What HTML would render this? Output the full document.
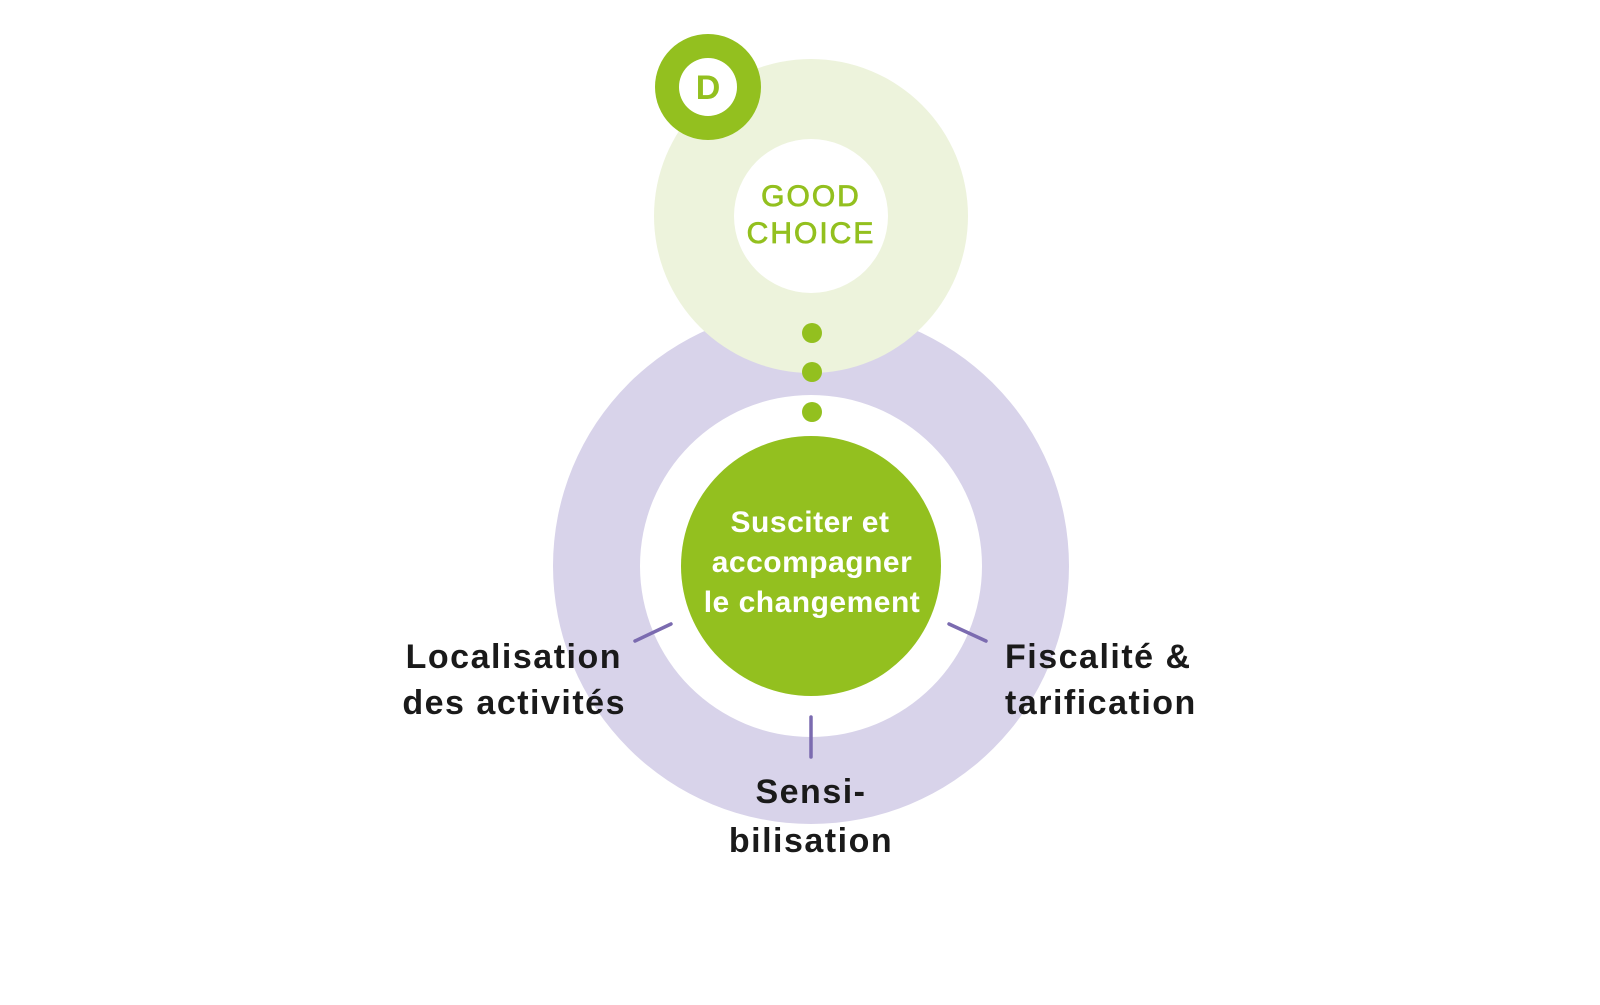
<!DOCTYPE html>
<html><head><meta charset="utf-8"><style>
body{margin:0;background:#fff;width:1600px;height:1000px;overflow:hidden}
</style></head><body>
<svg width="1600" height="1000" viewBox="0 0 1600 1000" xmlns="http://www.w3.org/2000/svg">
<circle cx="811" cy="566" r="258" fill="#d8d3ea"/>
<circle cx="811" cy="216" r="157" fill="#edf3dc"/>
<circle cx="811" cy="566" r="171" fill="#fff"/>
<circle cx="811" cy="216" r="77" fill="#fff"/>
<circle cx="811" cy="566" r="130" fill="#93c01f"/>
<circle cx="708" cy="87" r="53" fill="#93c01f"/>
<circle cx="708" cy="87" r="29" fill="#fff"/>
<text x="708" y="99" font-family="Liberation Sans, sans-serif" font-size="34" font-weight="bold" fill="#93c01f" text-anchor="middle">D</text>
<g fill="#93c01f"><circle cx="812" cy="333" r="10"/><circle cx="812" cy="372" r="10"/><circle cx="812" cy="412" r="10"/></g>
<g font-family="Liberation Sans, sans-serif" font-size="30" fill="#93c01f" text-anchor="middle" letter-spacing="2" stroke="#93c01f" stroke-width="0.8">
<text x="811" y="206">GOOD</text><text x="811" y="243">CHOICE</text></g>
<g font-family="Liberation Sans, sans-serif" font-size="30" font-weight="bold" fill="#fff" text-anchor="middle" letter-spacing="0.5">
<text x="810" y="532">Susciter et</text><text x="812" y="572">accompagner</text><text x="812" y="612">le changement</text></g>
<g stroke="#7b6bb0" stroke-width="3.5" stroke-linecap="round">
<line x1="635" y1="641" x2="671" y2="624"/><line x1="949" y1="624" x2="986" y2="641"/><line x1="811" y1="717" x2="811" y2="757"/></g>
<g font-family="Liberation Sans, sans-serif" font-size="34" fill="#1a1a1a" font-weight="bold" letter-spacing="1.5">
<text x="622" y="668" text-anchor="end">Localisation</text><text x="626" y="714" text-anchor="end">des activités</text>
<text x="1005" y="668">Fiscalité &amp;</text><text x="1005" y="714">tarification</text>
<text x="811" y="803" text-anchor="middle">Sensi-</text><text x="811" y="852" text-anchor="middle">bilisation</text></g>
</svg>
</body></html>
